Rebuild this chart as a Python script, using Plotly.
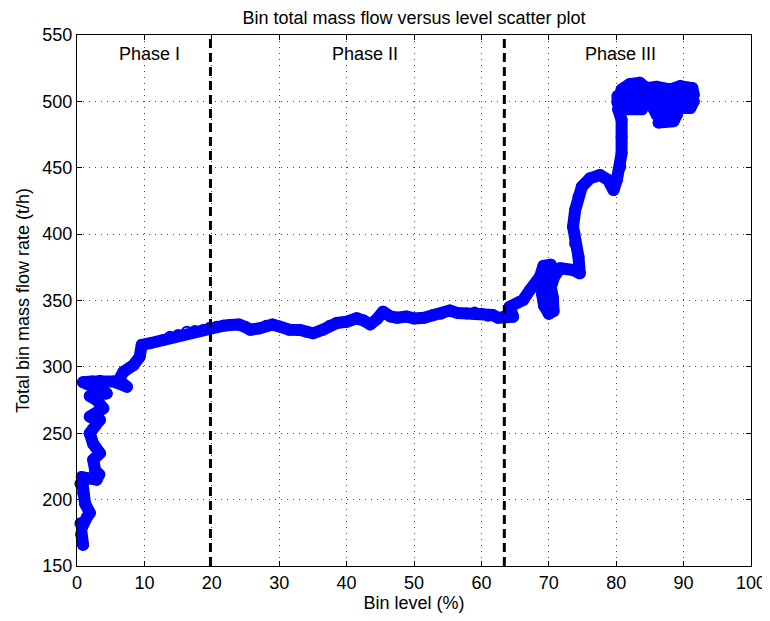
import plotly.graph_objects as go

# ---- data ----
level = [
    # Phase I
    0.9, 0.6, 0.5, 0.8, 1.5, 1.9, 1.2, 0.9, 0.5, 0.7, 1.8, 2.9, 3.3, 2.7, 2.4, 3.4, 2.4,
    1.9, 2.9, 3.4, 1.9, 3.9, 2.9, 1.9, 4.4, 2.6, 0.9, 2.2, 3.4, 5.4, 7.4, 6.2, 6.9,
    8.4, 9.3, 9.6, 10.8, 12.8, 13.8, 15.0, 16.3, 17.5, 18.7, 19.7, 20.7,
    # Phase II
    21.7, 22.7, 24.0, 25.0, 25.7, 27.0, 28.1, 29.0, 30.0, 31.5, 33.1, 34.0, 35.0,
    36.5, 37.5, 38.5, 40.0, 41.5, 42.5, 43.5, 44.5, 45.4, 46.5, 47.5, 48.9, 50.0,
    51.5, 52.8, 54.0, 55.3, 56.5, 57.8, 59.0, 60.0, 61.0, 61.7, 62.5, 63.4,
    # Phase III
    64.7, 64.2, 66.2, 67.2, 68.7, 69.2, 70.3, 70.6, 69.5, 69.0, 69.3, 70.0, 70.7,
    70.6, 70.3, 70.8, 71.7, 73.6, 74.6, 74.4, 73.9, 73.6, 73.9, 74.4, 74.9, 76.1,
    77.6, 78.8, 79.6, 80.1, 80.6, 80.8, 80.8, 80.8,
    80.3, 83.8, 84.0, 80.2, 80.2, 84.0, 84.2, 80.8, 82.0, 83.5, 84.5, 86.0, 88.0,
    89.5, 91.3, 91.5, 85.0, 85.0, 91.5, 91.0, 85.5, 86.0, 89.0, 88.5, 86.3,
]
flow = [
    # Phase I
    166, 174, 182, 180, 187, 190, 197, 205, 212, 217, 216, 215, 219, 222, 230, 235, 242,
    250, 257, 260, 262.5, 268.8, 275, 278, 280, 284, 288.5, 289, 289.5, 289, 285, 290, 296.4,
    301.4, 307.7, 316.5, 317.8, 320.3, 322.7, 324, 326.5, 327, 327.8, 329.5, 330.3,
    # Phase II
    331, 331.5, 332, 330, 328, 329, 331, 332, 330.5, 328, 327.8, 326.5, 325.3,
    328, 331, 333, 334, 336.6, 335, 332, 336, 341.6, 338, 337, 337.9, 336.5,
    337, 339, 340, 342.5, 340.5, 340.3, 341, 340, 338.5, 339, 337, 338,
    # Phase III
    337.8, 345.3, 350.4, 357.9, 368, 376, 377, 368, 362, 355, 346, 340, 342,
    352, 360, 368, 374.3, 373, 370.5, 383, 393, 405.6, 418, 428.2, 435.7, 442,
    444.5, 440.8, 433.2, 440.8, 450.8, 460.9, 473.4, 486,
    494, 494, 499, 499, 504, 504, 509, 509, 513, 514, 510, 511, 509,
    511.5, 510, 505, 505, 500, 500, 495, 495, 490, 490, 485, 484,
]

phase_bounds = [19.8, 63.4]
phase_names = ["Phase I", "Phase II", "Phase III"]
phase_label_x = [10.8, 42.7, 80.6]
phase_label_y = 536

x_ticks = list(range(0, 101, 10))
y_ticks = list(range(150, 551, 50))

FONT = "Liberation Sans, Arial, Helvetica, sans-serif"
FS = 18

# page body has an 8px margin, so the figure is drawn 8px smaller
W, H, PAGE_OFF = 770 - 8, 621 - 8, 8

fig = go.Figure()

fig.add_trace(go.Scatter(
    x=level, y=flow, mode="lines+markers",
    line=dict(color="#0000ff", width=12),
    marker=dict(symbol="circle-open", size=10, color="#0000ff", line=dict(width=2)),
    cliponaxis=False, showlegend=False, hoverinfo="x+y",
))

for b in phase_bounds:
    fig.add_trace(go.Scatter(
        x=[b, b], y=[y_ticks[0], y_ticks[-1]], mode="lines",
        line=dict(color="black", width=3, dash="9px,5px"),
        showlegend=False, hoverinfo="skip",
    ))

for name, xl in zip(phase_names, phase_label_x):
    fig.add_annotation(x=xl, y=phase_label_y, text=name, showarrow=False,
                       font=dict(family=FONT, size=FS, color="black"))

axis_common = dict(
    showline=True, linecolor="black", linewidth=1, mirror="ticks",
    ticks="inside", ticklen=5, tickcolor="black", tickwidth=1,
    showgrid=True, gridcolor="#444444", gridwidth=1, griddash="1px,5px",
    zeroline=False, automargin=False,
    tickfont=dict(family=FONT, size=FS, color="black"),
)

fig.update_xaxes(range=[0, 100], tickvals=x_ticks,
                 title=dict(text="Bin level (%)", font=dict(family=FONT, size=FS, color="black"), standoff=4),
                 **axis_common)
fig.update_yaxes(range=[150, 550], tickvals=y_ticks,
                 title=dict(text="Total bin mass flow rate (t/h)", font=dict(family=FONT, size=FS, color="black"), standoff=8),
                 **axis_common)

fig.update_layout(
    width=W, height=H,
    margin=dict(l=77 - PAGE_OFF, r=19, t=35 - PAGE_OFF, b=55, autoexpand=False),
    paper_bgcolor="white", plot_bgcolor="white",
    title=dict(text="Bin total mass flow versus level scatter plot",
               x=(414 - PAGE_OFF) / W, xanchor="center", y=1 - (18 - PAGE_OFF) / H, yanchor="middle",
               font=dict(family=FONT, size=FS, color="black")),
    font=dict(family=FONT, size=FS, color="black"),
)

post = """
var gd = document.getElementById('{plot_id}');
function roundJoins(){
  var tr = gd.querySelectorAll('.scatterlayer .trace')[0];
  if (!tr) return;
  tr.querySelectorAll('.js-line').forEach(function(p){
    p.style.strokeLinejoin = 'round';
    p.style.strokeLinecap = 'round';
  });
}
roundJoins();
if (gd.on) gd.on('plotly_afterplot', roundJoins);
"""

fig.write_html("out.html", post_script=post)
